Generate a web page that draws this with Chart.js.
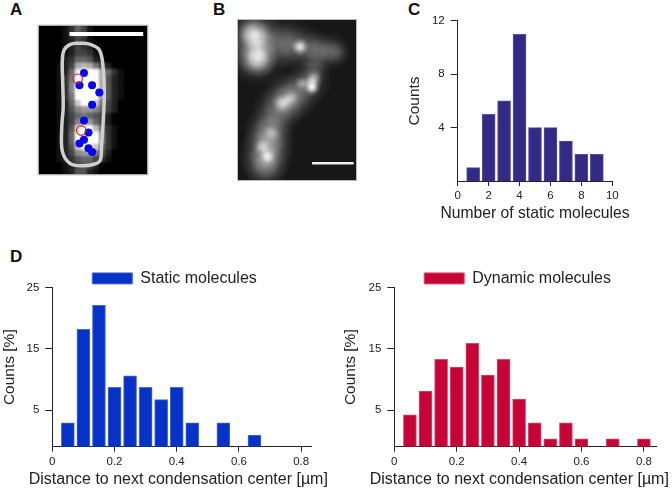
<!DOCTYPE html>
<html>
<head>
<meta charset="utf-8">
<title>Static and dynamic molecules</title>
<script src="https://cdn.jsdelivr.net/npm/chart.js@4/dist/chart.umd.min.js"></script>
<style>
    html, body { margin: 0; padding: 0; background: #fff; overflow: hidden; width: 672px; height: 490px; }
    canvas { position: absolute; }
    .letter { position: absolute; font: bold 17px "Liberation Sans", Arial, sans-serif; color: #111; line-height: 20px; }
</style>
</head>
<body>
<div class="letter" style="left:10px;top:0px">A</div>
<div class="letter" style="left:213px;top:0px">B</div>
<div class="letter" style="left:408px;top:0px">C</div>
<div class="letter" style="left:10px;top:247px">D</div>

<canvas id="panelA" width="122" height="162" style="left:32px;top:19px"></canvas>
<canvas id="panelB" width="120" height="162" style="left:237px;top:19px"></canvas>
<canvas id="panelC" width="230" height="222" style="left:400px;top:8px"></canvas>
<canvas id="panelDStatic" width="336" height="230" style="left:0;top:260px"></canvas>
<canvas id="panelDDynamic" width="331" height="230" style="left:341px;top:260px"></canvas>

<script>
// Panel C
const staticCounts = [1, 5, 6, 11, 4, 4, 3, 2, 2];
const staticNumbers = [1, 2, 3, 4, 5, 6, 7, 8, 9];
const countTicks = [4, 8, 12];
const numberTicks = [0, 2, 4, 6, 8, 10];

// Panel D
const staticDistances = [0.05, 0.1, 0.15, 0.2, 0.25, 0.3, 0.35, 0.4, 0.45, 0.55, 0.65];
const staticPercent = [2.9, 18.2, 22.1, 8.7, 10.6, 8.7, 6.7, 8.7, 2.9, 2.9, 0.9];
const dynamicDistances = [0.05, 0.1, 0.15, 0.2, 0.25, 0.3, 0.35, 0.4, 0.45, 0.5, 0.55, 0.6, 0.7, 0.8];
const dynamicPercent = [4.2, 8.1, 13.3, 12, 15.9, 10.7, 13.3, 6.8, 2.9, 0.3, 2.9, 0.3, 0.3, 0.3];
const percentTicks = [5, 15, 25];
const distanceTicks = [0, 0.2, 0.4, 0.6, 0.8];

// Panel A, in micrograph pixels
const blueX = [51, 46, 60, 68, 60, 51, 56, 51, 46, 56, 60];
const blueY = [52, 65, 65, 73, 86, 103, 116, 124, 128, 133, 137];
const redX = [44, 48];
const redY = [58, 114];
const outlineX = [46, 58, 68, 72, 73.5, 72, 70.5, 69, 63, 48, 35, 27, 26.5, 28, 27.5, 27, 29, 36, 46];
const outlineY = [19.5, 21, 27, 44, 76, 109, 129, 146, 150, 152, 149, 136, 109, 89, 63, 39, 27, 21, 19.5];
// brightness per camera pixel, one hex digit each
const heatRows = [
    "000013641000000000",
    "000013541000000000",
    "000012431000000000",
    "000012432000000000",
    "000012443100000000",
    "000023665210000000",
    "000124aba742000000",
    "000126efffa6310000",
    "000137ffffa5210000",
    "000138ffffa5210000",
    "000138ffffa5210000",
    "000137ffff95210000",
    "000126cffc74200000",
    "000125899864200000",
    "000124676542000000",
    "000124899642000000",
    "000125dffb63100000",
    "000126ffff83100000",
    "000126ffff83100000",
    "000125cfec63100000",
    "000124899752000000",
    "000123566431000000",
    "000012454200000000",
    "000012552100000000"
];

// Panel B, glow spots: x, y, radius, strength
const glowX = [55, 40, 65, 62, 40, 70, 130, 170, 188, 238, 280, 210, 300, 232, 215, 222, 225, 232, 192, 175, 150, 135, 160, 120, 95, 95, 85, 85, 92, 75, 105];
const glowY = [45, 42, 55, 118, 105, 115, 70, 80, 83, 95, 97, 85, 100, 148, 190, 192, 208, 175, 192, 225, 240, 252, 238, 275, 330, 370, 410, 440, 412, 382, 340];
const glowR = [40, 25, 25, 30, 45, 45, 40, 40, 14, 30, 30, 35, 20, 25, 35, 16, 12, 14, 12, 40, 40, 16, 14, 40, 38, 40, 42, 35, 14, 14, 14];
const glowA = [0.85, 0.5, 0.35, 1, 0.35, 0.35, 0.45, 0.35, 1, 0.4, 0.45, 0.25, 0.2, 0.35, 0.4, 0.85, 0.85, 0.45, 0.45, 0.4, 0.5, 0.6, 0.45, 0.5, 0.55, 0.6, 0.55, 0.55, 0.6, 0.45, 0.3];

const FONT = '"Liberation Sans", Arial, sans-serif';
const INK = '#222';

function frame(ctx, area) {
    ctx.strokeStyle = '#bdbdbd';
    ctx.lineWidth = 1;
    ctx.strokeRect(area.left + 0.5, area.top + 0.5, area.width - 1, area.height - 1);
}

// Draws the camera pixels under the dots of panel A
const heatPlugin = {
    id: 'heat',
    beforeDatasetsDraw(chart) {
        const { ctx, chartArea } = chart;
        const w = chartArea.width / heatRows[0].length;
        const h = chartArea.height / heatRows.length;
        const sheet = document.createElement('canvas');
        sheet.width = chartArea.width;
        sheet.height = chartArea.height;
        const sheetCtx = sheet.getContext('2d');
        heatRows.forEach((row, r) => {
            [...row].forEach((cell, c) => {
                const v = Math.round(parseInt(cell, 16) * 17);
                sheetCtx.fillStyle = `rgb(${v},${v},${v})`;
                sheetCtx.fillRect(c * w, r * h, w + 0.5, h + 0.5);
            });
        });
        ctx.save();
        ctx.fillStyle = '#000';
        ctx.fillRect(chartArea.left, chartArea.top, chartArea.width, chartArea.height);
        ctx.beginPath();
        ctx.rect(chartArea.left, chartArea.top, chartArea.width, chartArea.height);
        ctx.clip();
        ctx.filter = 'blur(1.2px)';
        ctx.drawImage(sheet, chartArea.left, chartArea.top);
        ctx.filter = 'none';
        frame(ctx, chartArea);
        ctx.restore();
    }
};

// Soft spots of panel B
const glowPlugin = {
    id: 'glow',
    beforeDatasetsDraw(chart) {
        const { ctx, chartArea, scales } = chart;
        ctx.save();
        ctx.fillStyle = '#171717';
        ctx.fillRect(chartArea.left, chartArea.top, chartArea.width, chartArea.height);
        ctx.beginPath();
        ctx.rect(chartArea.left, chartArea.top, chartArea.width, chartArea.height);
        ctx.clip();
        ctx.globalCompositeOperation = 'lighter';
        glowX.forEach((gx, i) => {
            const px = scales.x.getPixelForValue(gx);
            const py = scales.y.getPixelForValue(glowY[i]);
            const r = glowR[i] / 3 * 2;
            const g = ctx.createRadialGradient(px, py, 0, px, py, r);
            const c = a => `rgba(255,255,255,${a * glowA[i] * 0.5})`;
            g.addColorStop(0, c(1));
            g.addColorStop(0.35, c(0.72));
            g.addColorStop(0.65, c(0.25));
            g.addColorStop(1, c(0));
            ctx.fillStyle = g;
            ctx.fillRect(px - r, py - r, r * 2, r * 2);
        });
        ctx.restore();
        ctx.save();
        frame(ctx, chartArea);
        ctx.restore();
    }
};

// The scale title gets squeezed to the axis width, so the long x titles are drawn here
const xTitlePlugin = {
    id: 'xTitle',
    afterLayout(chart, args, opts) {
        if (chart.legend) {
            chart.legend.left += opts.legendDx;
            chart.legend.right += opts.legendDx;
            chart.legend.top += opts.legendDy;
            chart.legend.bottom += opts.legendDy;
        }
    },
    afterDraw(chart, args, opts) {
        const ctx = chart.ctx;
        ctx.save();
        ctx.font = `${opts.size}px ${FONT}`;
        ctx.fillStyle = INK;
        ctx.textAlign = 'center';
        ctx.textBaseline = 'middle';
        ctx.fillText(opts.text, opts.x, opts.y);
        ctx.restore();
    }
};

function zip(xs, ys) {
    return xs.map((x, i) => ({ x: x, y: ys[i] }));
}

function hiddenAxes(xMax, yMax) {
    return {
        x: { type: 'linear', display: false, min: 0, max: xMax },
        y: { type: 'linear', display: false, reverse: true, min: 0, max: yMax }
    };
}

new Chart(document.getElementById('panelA'), {
    type: 'scatter',
    data: {
        datasets: [
            { data: [{ x: 35, y: 9.7 }, { x: 116.6, y: 9.7 }], showLine: true, borderColor: '#fff', borderWidth: 4, pointRadius: 0 },
            { data: zip(redX, redY), pointRadius: 4.7, backgroundColor: 'rgba(0,0,0,0)', borderColor: '#f01818', borderWidth: 1.2 },
            { data: zip(blueX, blueY), pointRadius: 4, backgroundColor: '#0505f0', borderWidth: 0 },
            { data: zip(outlineX, outlineY), showLine: true, tension: 0.35, borderColor: '#cfcfcf', borderWidth: 3.5, pointRadius: 0 }
        ]
    },
    options: {
        responsive: false, animation: false,
        layout: { padding: 0 },
        plugins: { legend: { display: false }, tooltip: { enabled: false } },
        scales: hiddenAxes(122, 162)
    },
    plugins: [heatPlugin]
});

new Chart(document.getElementById('panelB'), {
    type: 'scatter',
    data: {
        datasets: [
            { data: [{ x: 224, y: 432 }, { x: 348, y: 432 }], showLine: true, borderColor: '#eee', borderWidth: 2.5, pointRadius: 0 }
        ]
    },
    options: {
        responsive: false, animation: false,
        layout: { padding: 0 },
        plugins: { legend: { display: false }, tooltip: { enabled: false } },
        scales: hiddenAxes(358, 485)
    },
    plugins: [glowPlugin]
});

// Shared setup for the three histograms
function histogram(id, cfg) {
    return new Chart(document.getElementById(id), {
        type: 'bar',
        data: {
            datasets: [{
                label: cfg.label,
                data: zip(cfg.xs, cfg.ys),
                base: cfg.yMin,
                backgroundColor: cfg.color,
                borderColor: cfg.edge,
                borderWidth: 1,
                barThickness: 13
            }]
        },
        options: {
            responsive: false,
            animation: false,
            layout: { padding: cfg.padding },
            plugins: {
                tooltip: { enabled: false },
                legend: {
                    display: !!cfg.label,
                    position: 'top',
                    labels: {
                        boxWidth: 40, boxHeight: 11, padding: 1, color: INK,
                        font: { family: FONT, size: 16 }
                    }
                },
                xTitle: {
                    text: cfg.xTitle, x: cfg.titleX, y: cfg.titleY, size: cfg.titleSize,
                    legendDx: cfg.legendDx || 0, legendDy: cfg.legendDy || 0
                }
            },
            scales: {
                x: {
                    type: 'linear', min: 0, max: cfg.xMax, offset: false,
                    afterBuildTicks: s => { s.ticks = cfg.xTicks.map(v => ({ value: v })); },
                    afterFit: s => { s.height = cfg.xHeight; },
                    grid: { offset: false, drawOnChartArea: false, tickLength: 5, tickColor: INK },
                    border: { color: INK, width: 1 },
                    ticks: {
                        color: INK, padding: 3, maxRotation: 0, autoSkip: false,
                        font: { family: FONT, size: 11.5 },
                        callback: v => String(v)
                    }
                },
                y: {
                    type: 'linear', min: cfg.yMin, max: cfg.yMax,
                    afterBuildTicks: s => { s.ticks = cfg.yTicks.map(v => ({ value: v })); },
                    afterFit: s => { s.width = cfg.yWidth; },
                    grid: { drawOnChartArea: false, tickLength: 7, tickColor: INK },
                    border: { color: INK, width: 1 },
                    ticks: {
                        color: INK, padding: 6, autoSkip: false,
                        font: { family: FONT, size: 11.5 },
                        callback: v => String(v)
                    },
                    title: {
                        display: true, text: cfg.yTitle, color: INK,
                        font: { family: FONT, size: 15.5 },
                        padding: { top: 0, bottom: 0 }
                    }
                }
            }
        },
        plugins: [xTitlePlugin]
    });
}

histogram('panelC', {
    xs: staticNumbers, ys: staticCounts,
    color: '#332a85', edge: '#5a52a0',
    xMax: 10, xTicks: numberTicks, xHeight: 49,
    xTitle: 'Number of static molecules', titleX: 135, titleY: 205.5, titleSize: 15.7,
    yMin: 0, yMax: 12, yTicks: countTicks, yTitle: 'Counts', yWidth: 52.7,
    padding: { top: 11, right: 17.7, left: 5, bottom: 0 }
});

histogram('panelDStatic', {
    label: 'Static molecules',
    xs: staticDistances, ys: staticPercent,
    color: '#0632c8', edge: '#4a6cdc',
    xMax: 0.834, xTicks: distanceTicks, xHeight: 43.3,
    xTitle: 'Distance to next condensation center [µm]', titleX: 178.3, titleY: 220, titleSize: 16,
    yMin: -1, yMax: 25, yTicks: percentTicks, yTitle: 'Counts [%]', yWidth: 52.3,
    legendDx: 18.7, legendDy: 8.7,
    padding: { top: 0.7, right: 24.3, left: 0, bottom: 0 }
});

histogram('panelDDynamic', {
    label: 'Dynamic molecules',
    xs: dynamicDistances, ys: dynamicPercent,
    color: '#c70436', edge: '#dc4a70',
    xMax: 0.841, xTicks: distanceTicks, xHeight: 43.3,
    xTitle: 'Distance to next condensation center [µm]', titleX: 178.3, titleY: 220, titleSize: 16,
    yMin: -1, yMax: 25, yTicks: percentTicks, yTitle: 'Counts [%]', yWidth: 53.3,
    legendDx: 18.7, legendDy: 8.7,
    padding: { top: 0.7, right: 15.3, left: 0, bottom: 0 }
});
</script>
</body>
</html>
